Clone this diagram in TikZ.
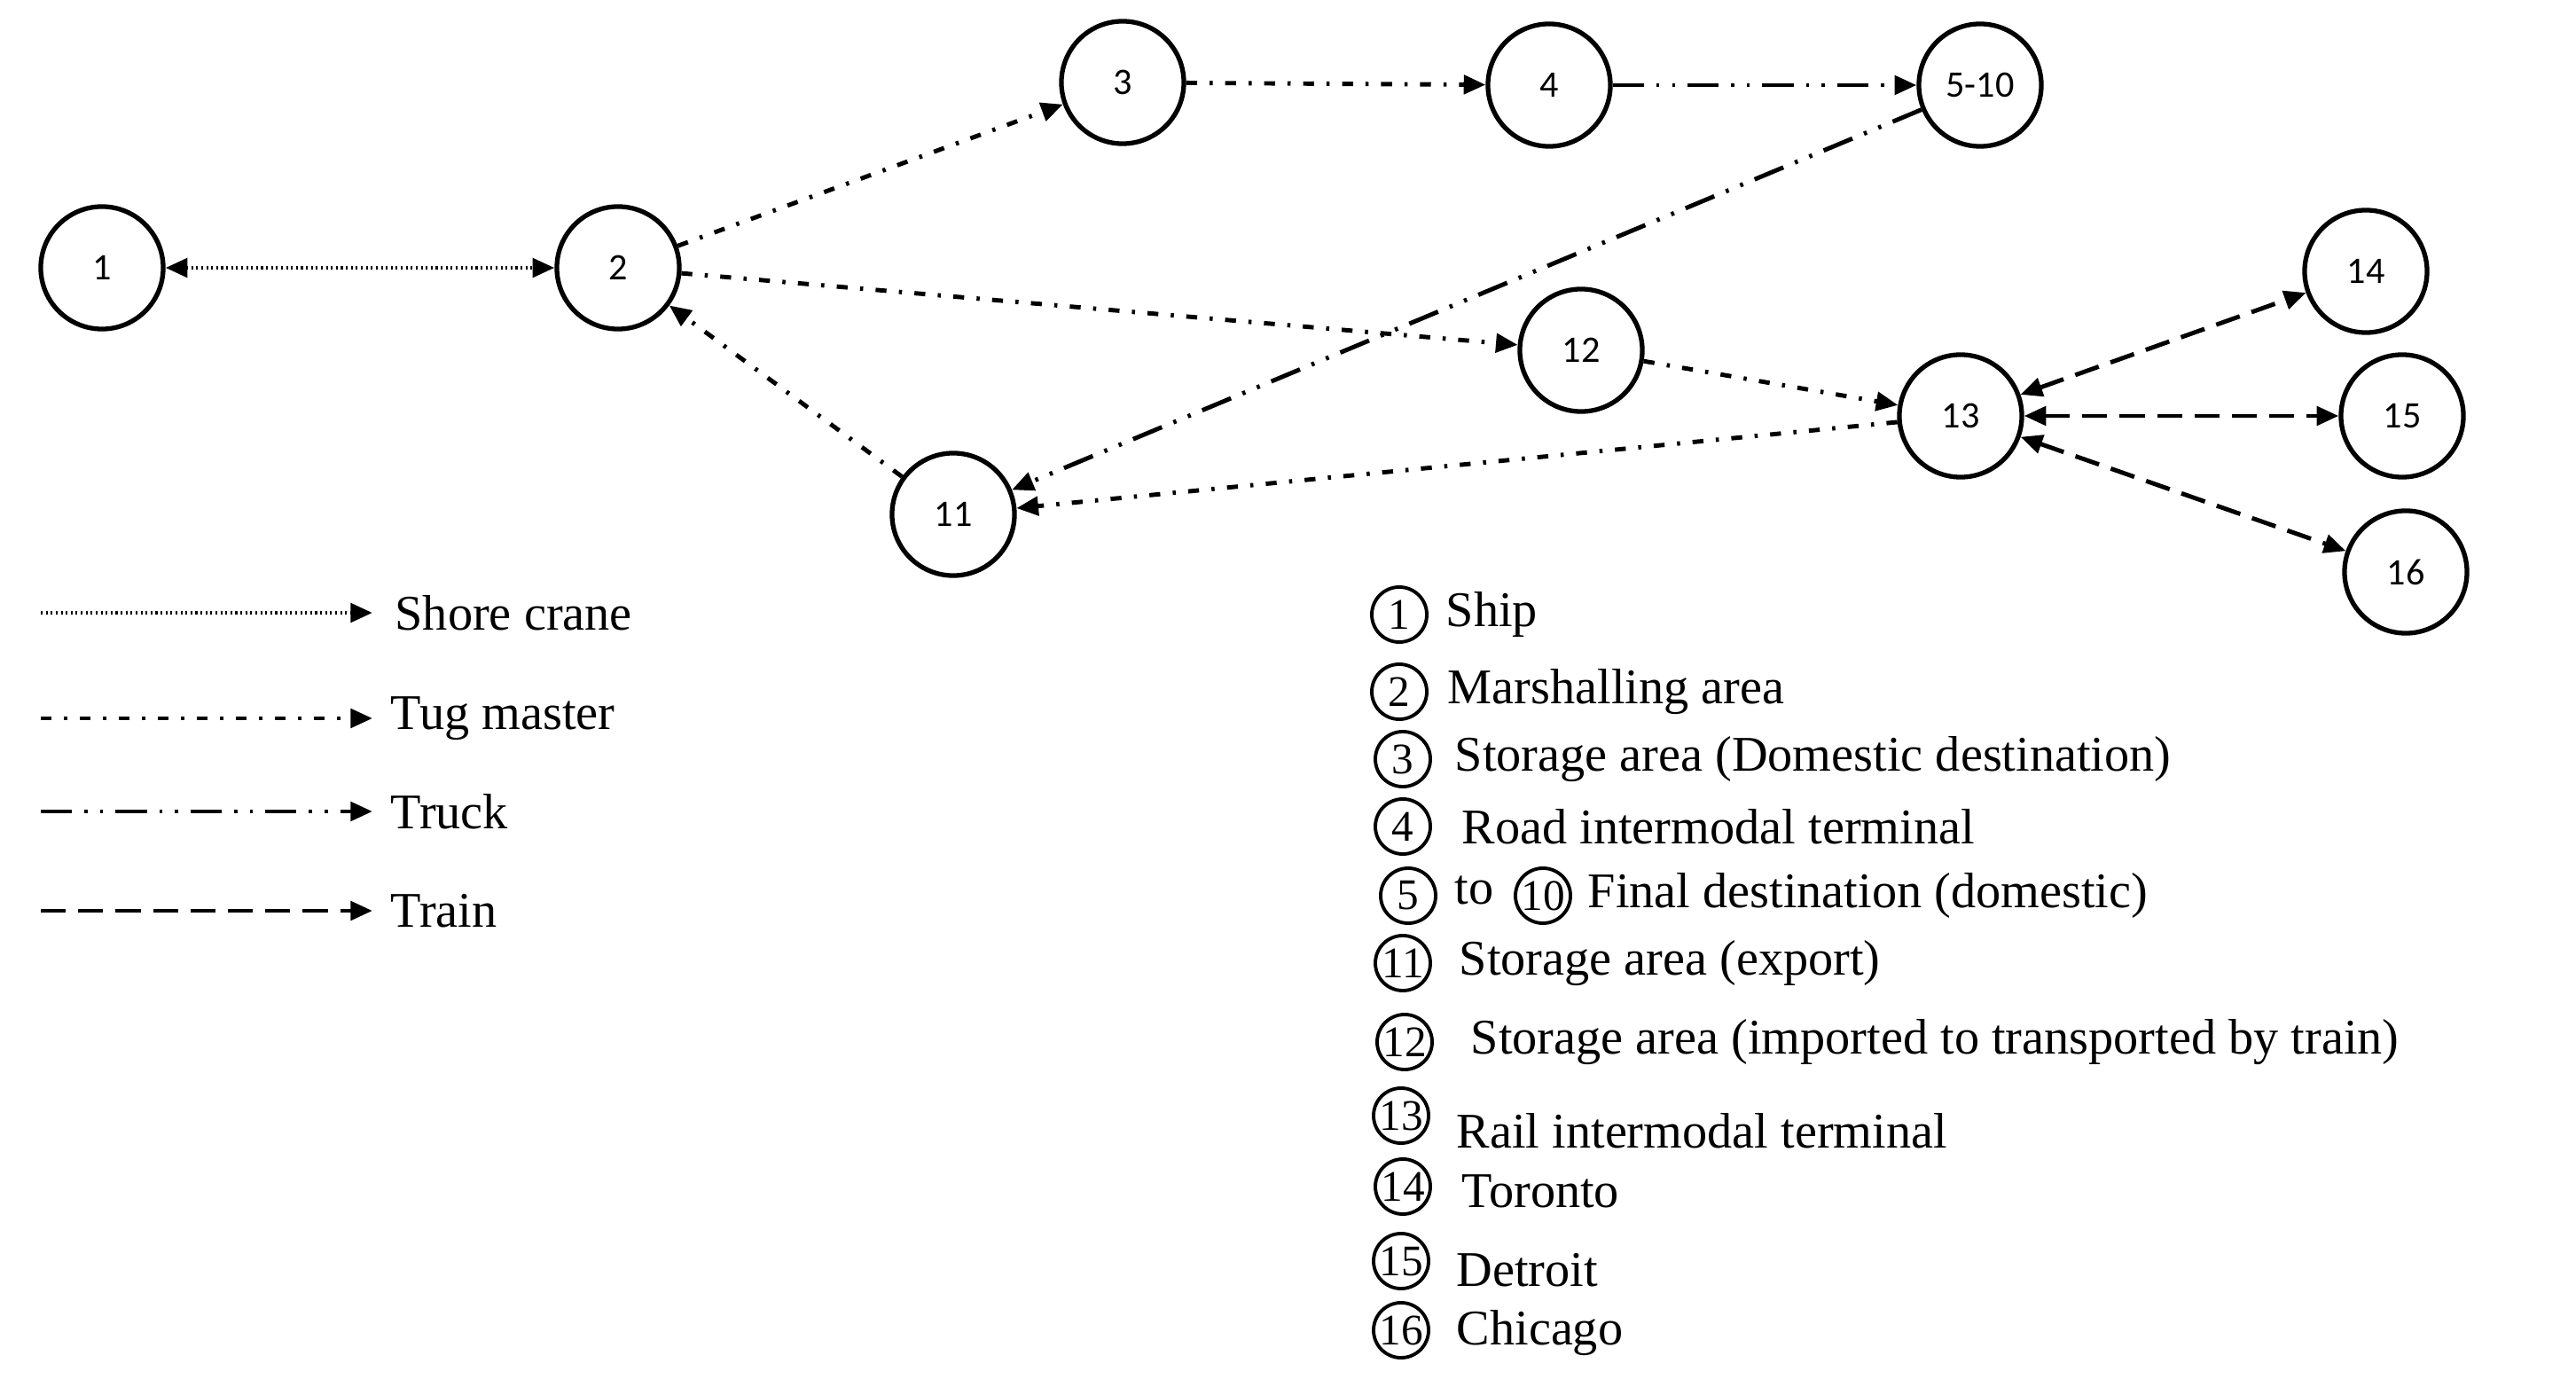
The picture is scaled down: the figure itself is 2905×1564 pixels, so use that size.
\documentclass[tikz,border=0pt]{standalone}
\usepackage{fontspec}
\setmainfont{Liberation Serif}
\newfontfamily\nodefont{Carlito}
\usetikzlibrary{arrows.meta}
\begin{document}
\begin{tikzpicture}[x=0.01cm,y=-0.01cm,
  st/.style={circle,draw,line width=1.5pt,minimum size=1.38cm,inner sep=0pt,font=\nodefont\fontsize{12}{14}\selectfont},
  sm/.style={circle,draw,line width=1.1pt,minimum size=0.62cm,inner sep=0pt,font=\fontsize{14}{16}\selectfont},
  lab/.style={anchor=west,inner sep=0pt,font=\fontsize{16}{19}\selectfont},
  base/.style={line width=1.4pt,-{Triangle[length=7pt,width=6pt]}},
  crane/.style={base,dash pattern=on 0.6pt off 1pt},
  tug/.style={base,dash pattern=on 3.5pt off 4pt on 1pt off 4pt},
  truck/.style={base,dash pattern=on 10pt off 4pt on 1pt off 4pt on 1pt off 4pt},
  train/.style={base,dash pattern=on 8pt off 4pt},
  both/.style={{Triangle[length=7pt,width=6pt]}-{Triangle[length=7pt,width=6pt]}}]
\useasboundingbox (0,0) rectangle (2905,1564);
\node[st] (n1) at (115,302) {1};
\node[st] (n2) at (697,302) {2};
\node[st] (n3) at (1266,93) {3};
\node[st] (n4) at (1747,96) {4};
\node[st] (n5) at (2233,96) {5-10};
\node[st] (n11) at (1075,580) {11};
\node[st] (n12) at (1783,395) {12};
\node[st] (n13) at (2211,469) {13};
\node[st] (n14) at (2668,306) {14};
\node[st] (n15) at (2709,469) {15};
\node[st] (n16) at (2713,645) {16};
\draw[crane,both] (n1) -- (n2);
\draw[tug] (n2) -- (n3);
\draw[tug] (n3) -- (n4);
\draw[truck] (n4) -- (n5);
\draw[truck] (n5) -- (n11);
\draw[tug] (n2) -- (n12);
\draw[tug] (n12) -- (n13);
\draw[tug] (n13) -- (n11);
\draw[tug] (n11) -- (n2);
\draw[train,both] (n13) -- (n14);
\draw[train,both] (n13) -- (n15);
\draw[train,both] (n13) -- (n16);
% legend
\coordinate (a1) at (46,691); \coordinate (b1) at (420,691);
\coordinate (a2) at (46,810); \coordinate (b2) at (420,810);
\coordinate (a3) at (46,915); \coordinate (b3) at (420,915);
\coordinate (a4) at (46,1027); \coordinate (b4) at (420,1027);
\draw[crane] (a1) -- (b1);
\draw[tug] (a2) -- (b2);
\draw[truck] (a3) -- (b3);
\draw[train] (a4) -- (b4);
\node[lab] (l1) at (445,691) {Shore crane};
\node[lab] (l2) at (440,810) {Tug master};
\node[lab] (l3) at (440,915) {Truck};
\node[lab] (l4) at (440,1027) {Train};
% key
\node[sm] (k1) at (1578,693) {1}; \node[lab] (t1) at (1630,693) {Ship};
\node[sm] (k2) at (1578,780) {2}; \node[lab] (t2) at (1632,780) {Marshalling area};
\node[sm] (k3) at (1582,856) {3}; \node[lab] (t3) at (1640,856) {Storage area (Domestic destination)};
\node[sm] (k4) at (1582,932) {4}; \node[lab] (t4) at (1648,932) {Road intermodal terminal};
\node[sm] (k5) at (1588,1010) {5}; \node[lab] (to) at (1640,1004) {to};
\node[sm] (k10) at (1740,1010) {10}; \node[lab] (t5) at (1730,1010) {\hspace{0.6cm}Final destination (domestic)};
\node[sm] (k11) at (1582,1086) {11}; \node[lab] (t11) at (1645,1086) {Storage area (export)};
\node[sm] (k12) at (1584,1175) {12}; \node[lab] (t12) at (1658,1175) {Storage area (imported to transported by train)};
\node[sm] (k13) at (1580,1258) {13}; \node[lab] (t13) at (1642,1275) {Rail intermodal terminal};
\node[sm] (k14) at (1582,1338) {14}; \node[lab] (t14) at (1648,1343) {Toronto};
\node[sm] (k15) at (1580,1422) {15}; \node[lab] (t15) at (1642,1432) {Detroit};
\node[sm] (k16) at (1580,1500) {16}; \node[lab] (t16) at (1642,1503) {Chicago};
\end{tikzpicture}
\end{document}
